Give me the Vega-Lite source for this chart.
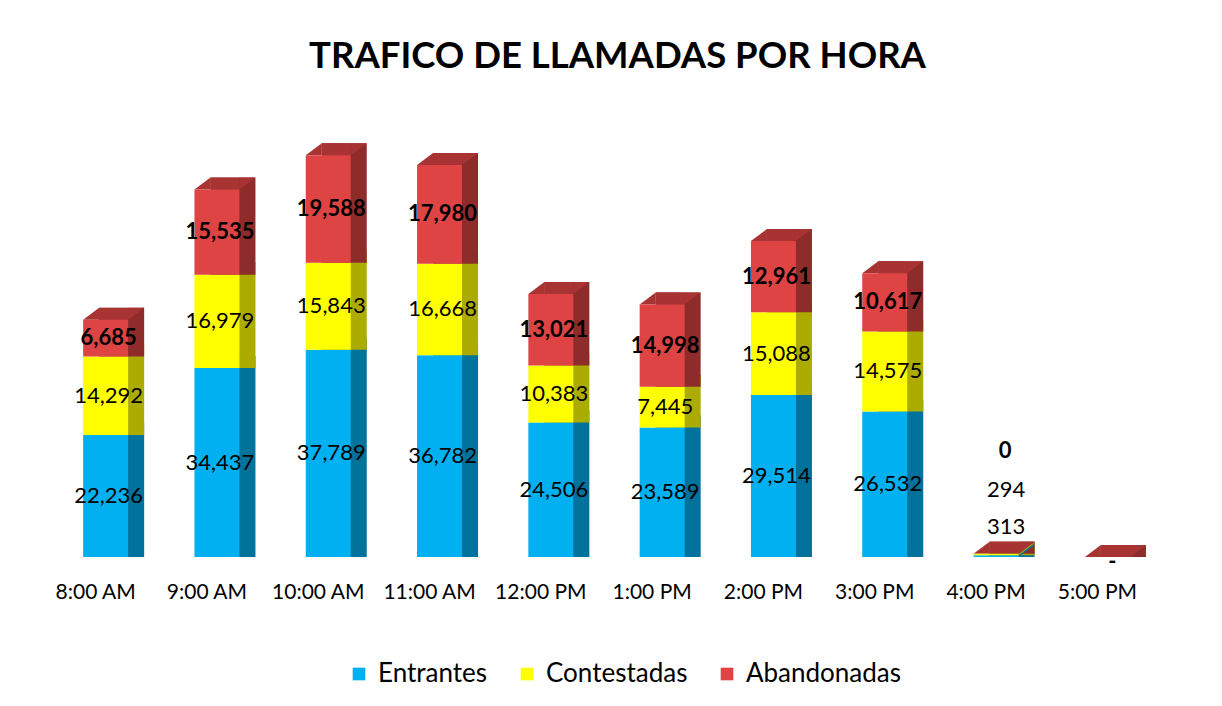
{
  "$schema": "https://vega.github.io/schema/vega-lite/v6.json",
  "width": 1113,
  "height": 439,
  "autosize": {"type": "none"},
  "padding": {"left": 40, "top": 118, "right": 69, "bottom": 149},
  "background": "white",
  "title": {"text": "TRAFICO DE LLAMADAS POR HORA", "font": "Lato", "fontSize": 36.5, "fontWeight": "bold", "color": "#000000", "anchor": "middle", "offset": 14, "baseline": "alphabetic", "dx": 21},
  "data": {"values": [
    {"hora": "8:00 AM", "serie": "Entrantes", "valor": 22236},
    {"hora": "8:00 AM", "serie": "Contestadas", "valor": 14292},
    {"hora": "8:00 AM", "serie": "Abandonadas", "valor": 6685},
    {"hora": "9:00 AM", "serie": "Entrantes", "valor": 34437},
    {"hora": "9:00 AM", "serie": "Contestadas", "valor": 16979},
    {"hora": "9:00 AM", "serie": "Abandonadas", "valor": 15535},
    {"hora": "10:00 AM", "serie": "Entrantes", "valor": 37789},
    {"hora": "10:00 AM", "serie": "Contestadas", "valor": 15843},
    {"hora": "10:00 AM", "serie": "Abandonadas", "valor": 19588},
    {"hora": "11:00 AM", "serie": "Entrantes", "valor": 36782},
    {"hora": "11:00 AM", "serie": "Contestadas", "valor": 16668},
    {"hora": "11:00 AM", "serie": "Abandonadas", "valor": 17980},
    {"hora": "12:00 PM", "serie": "Entrantes", "valor": 24506},
    {"hora": "12:00 PM", "serie": "Contestadas", "valor": 10383},
    {"hora": "12:00 PM", "serie": "Abandonadas", "valor": 13021},
    {"hora": "1:00 PM", "serie": "Entrantes", "valor": 23589},
    {"hora": "1:00 PM", "serie": "Contestadas", "valor": 7445},
    {"hora": "1:00 PM", "serie": "Abandonadas", "valor": 14998},
    {"hora": "2:00 PM", "serie": "Entrantes", "valor": 29514},
    {"hora": "2:00 PM", "serie": "Contestadas", "valor": 15088},
    {"hora": "2:00 PM", "serie": "Abandonadas", "valor": 12961},
    {"hora": "3:00 PM", "serie": "Entrantes", "valor": 26532},
    {"hora": "3:00 PM", "serie": "Contestadas", "valor": 14575},
    {"hora": "3:00 PM", "serie": "Abandonadas", "valor": 10617},
    {"hora": "4:00 PM", "serie": "Entrantes", "valor": 313},
    {"hora": "4:00 PM", "serie": "Contestadas", "valor": 294},
    {"hora": "4:00 PM", "serie": "Abandonadas", "valor": 0},
    {"hora": "5:00 PM", "serie": "Entrantes", "valor": 0},
    {"hora": "5:00 PM", "serie": "Contestadas", "valor": 0},
    {"hora": "5:00 PM", "serie": "Abandonadas", "valor": 0}
  ]},
  "transform": [
    {"stack": "valor", "groupby": ["hora"], "sort": [{"field": "serie", "order": "descending"}], "as": ["v0", "v1"]},
    {"calculate": "(datum.v0 + datum.v1) / 2", "as": "medio"}
  ],
  "encoding": {
    "x": {
      "field": "hora", "type": "ordinal",
      "sort": ["8:00 AM", "9:00 AM", "10:00 AM", "11:00 AM", "12:00 PM", "1:00 PM", "2:00 PM", "3:00 PM", "4:00 PM", "5:00 PM"],
      "scale": {"paddingInner": 0, "paddingOuter": 0},
      "axis": {"title": null, "labelFont": "Lato", "labelFontSize": 21, "labelColor": "#000000", "labelPadding": 24, "ticks": false, "domain": false, "labelAngle": 0, "grid": false}
    }
  },
  "layer": [
    {
      "mark": {"type": "bar", "width": 45, "xOffset": 26, "yOffset": -12},
      "encoding": {
        "y": {"field": "v1", "type": "quantitative", "scale": {"domain": [0, 80000], "nice": false}, "axis": null},
        "y2": {"field": "v0"},
        "color": {"field": "serie", "type": "nominal", "scale": {"domain": ["Entrantes", "Contestadas", "Abandonadas"], "range": ["#00729C", "#ABAB00", "#8E2B2B"]}, "legend": null}
      }
    },
    {
      "mark": {"type": "point", "shape": "M0,0 L0,-0.75 L1,-0.75 Z", "size": 1024, "filled": true, "opacity": 1, "strokeWidth": 0, "xOffset": 32.5},
      "encoding": {
        "y": {"field": "v0", "type": "quantitative", "scale": {"domain": [0, 80000], "nice": false}, "axis": null},
        "color": {"field": "serie", "type": "nominal", "scale": {"domain": ["Entrantes", "Contestadas", "Abandonadas"], "range": ["#00729C", "#ABAB00", "#8E2B2B"]}, "legend": null}
      }
    },
    {
      "transform": [{"filter": "datum.serie == 'Abandonadas'"}],
      "mark": {"type": "tick", "orient": "horizontal", "size": 29, "thickness": 12, "xOffset": 18, "yOffset": -6, "color": "#A83333", "opacity": 1},
      "encoding": {
        "y": {"field": "v1", "type": "quantitative", "scale": {"domain": [0, 80000], "nice": false}, "axis": null}
      }
    },
    {
      "transform": [{"filter": "datum.serie == 'Abandonadas'"}],
      "mark": {"type": "point", "shape": "M0,0 L1,-0.75 L1,0 Z", "size": 1024, "filled": true, "opacity": 1, "strokeWidth": 0, "xOffset": -12.5, "color": "#A83333"},
      "encoding": {
        "y": {"field": "v1", "type": "quantitative", "scale": {"domain": [0, 80000], "nice": false}, "axis": null}
      }
    },
    {
      "transform": [{"filter": "datum.serie == 'Abandonadas'"}],
      "mark": {"type": "point", "shape": "M0,0 L0,-0.75 L1,-0.75 Z", "size": 1024, "filled": true, "opacity": 1, "strokeWidth": 0, "xOffset": 32.5, "color": "#A83333"},
      "encoding": {
        "y": {"field": "v1", "type": "quantitative", "scale": {"domain": [0, 80000], "nice": false}, "axis": null}
      }
    },
    {
      "mark": {"type": "bar", "width": 45, "xOffset": 10},
      "encoding": {
        "y": {"field": "v1", "type": "quantitative", "scale": {"domain": [0, 80000], "nice": false}, "axis": null},
        "y2": {"field": "v0"},
        "color": {
          "field": "serie", "type": "nominal",
          "scale": {"domain": ["Entrantes", "Contestadas", "Abandonadas"], "range": ["#00B0F0", "#FFFF00", "#DE4444"]},
          "legend": {"title": null, "orient": "none", "legendX": 306, "legendY": 543, "direction": "horizontal", "symbolType": "square", "symbolSize": 160, "symbolStrokeWidth": 0, "labelFont": "Lato", "labelFontSize": 26, "labelColor": "#000000", "columnPadding": 26, "labelOffset": 6}
        }
      }
    },
    {
      "transform": [{"filter": "datum.serie != 'Abandonadas' && datum.hora != '4:00 PM' && datum.hora != '5:00 PM'"}],
      "mark": {"type": "text", "font": "Lato", "fontSize": 22, "color": "#000000", "baseline": "middle", "xOffset": 13},
      "encoding": {
        "y": {"field": "medio", "type": "quantitative", "scale": {"domain": [0, 80000], "nice": false}, "axis": null},
        "text": {"field": "valor", "type": "quantitative", "format": ","}
      }
    },
    {
      "transform": [{"filter": "datum.serie == 'Abandonadas' && datum.hora != '4:00 PM' && datum.hora != '5:00 PM'"}],
      "mark": {"type": "text", "font": "Lato", "fontSize": 22, "fontWeight": "bold", "color": "#000000", "baseline": "middle", "xOffset": 13},
      "encoding": {
        "y": {"field": "medio", "type": "quantitative", "scale": {"domain": [0, 80000], "nice": false}, "axis": null},
        "text": {"field": "valor", "type": "quantitative", "format": ","}
      }
    },
    {
      "transform": [{"filter": "datum.serie == 'Entrantes' && datum.hora == '4:00 PM'"}],
      "mark": {"type": "text", "font": "Lato", "fontSize": 22, "color": "#000000", "baseline": "middle", "xOffset": 20, "dy": -30},
      "encoding": {
        "y": {"datum": 0, "type": "quantitative"},
        "text": {"field": "valor", "type": "quantitative", "format": ","}
      }
    },
    {
      "transform": [{"filter": "datum.serie == 'Contestadas' && datum.hora == '4:00 PM'"}],
      "mark": {"type": "text", "font": "Lato", "fontSize": 22, "color": "#000000", "baseline": "middle", "xOffset": 20, "dy": -67},
      "encoding": {
        "y": {"datum": 0, "type": "quantitative"},
        "text": {"field": "valor", "type": "quantitative", "format": ","}
      }
    },
    {
      "transform": [{"filter": "datum.serie == 'Abandonadas' && datum.hora == '4:00 PM'"}],
      "mark": {"type": "text", "font": "Lato", "fontSize": 22, "fontWeight": "bold", "color": "#000000", "baseline": "middle", "xOffset": 19, "dy": -106},
      "encoding": {
        "y": {"datum": 0, "type": "quantitative"},
        "text": {"field": "valor", "type": "quantitative", "format": ","}
      }
    },
    {
      "transform": [{"filter": "datum.serie == 'Abandonadas' && datum.hora == '5:00 PM'"}],
      "mark": {"type": "text", "font": "Lato", "fontSize": 22, "fontWeight": "bold", "color": "#000000", "baseline": "middle", "xOffset": 15, "dy": 5},
      "encoding": {
        "y": {"datum": 0, "type": "quantitative"},
        "text": {"value": "-"}
      }
    }
  ],
  "resolve": {"scale": {"color": "independent"}},
  "config": {
    "view": {"stroke": null}
  }
}
